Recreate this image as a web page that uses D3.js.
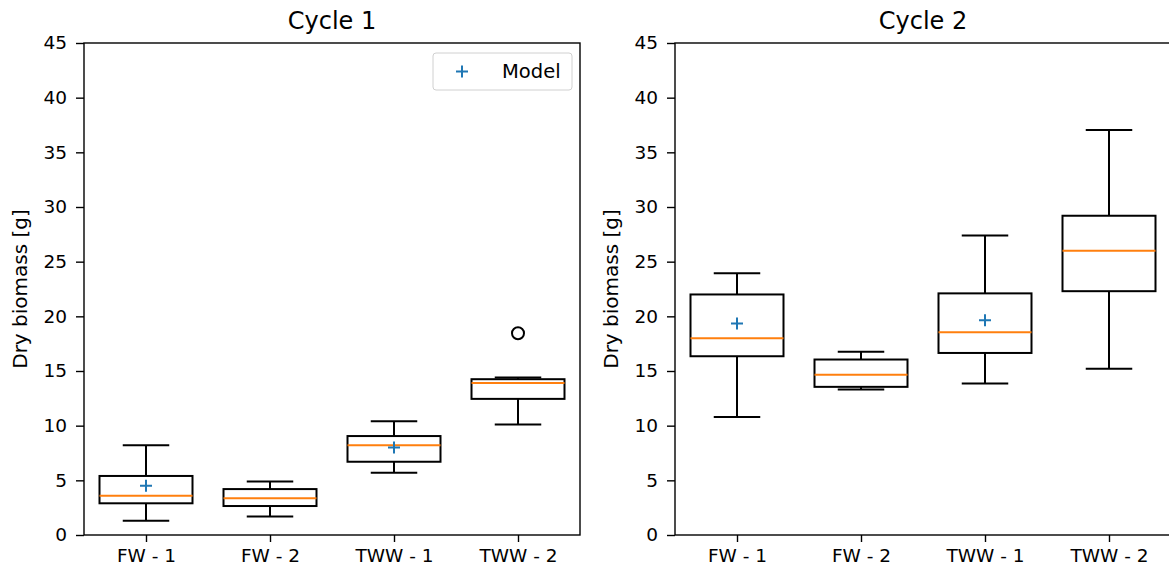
<!DOCTYPE html>
<html>
<head>
<meta charset="utf-8">
<script src="https://cdn.jsdelivr.net/npm/d3@7"></script>
<style>
  body { margin: 0; background: #fff; }
  text { font-family: "DejaVu Sans", sans-serif; fill: #000; }
</style>
</head>
<body>
<script>
const WIDTH = 1169
const HEIGHT = 570

const CATEGORIES = ['FW - 1', 'FW - 2', 'TWW - 1', 'TWW - 2']
const Y_TICKS = [0, 5, 10, 15, 20, 25, 30, 35, 40, 45]

// cycle 1 : whisker low, q1, median, q3, whisker high
const C1_LOW = [1.3, 1.7, 5.7, 10.1]
const C1_Q1 = [2.9, 2.65, 6.7, 12.45]
const C1_MED = [3.6, 3.35, 8.2, 13.9]
const C1_Q3 = [5.4, 4.2, 9.05, 14.25]
const C1_HIGH = [8.2, 4.9, 10.4, 14.4]
const C1_OUTLIERS = [[], [], [], [18.45]]
const C1_MODEL = [4.5, null, 8.0, null]

// cycle 2
const C2_LOW = [10.8, 13.3, 13.85, 15.2]
const C2_Q1 = [16.35, 13.55, 16.65, 22.3]
const C2_MED = [18.0, 14.65, 18.55, 26.0]
const C2_Q3 = [22.0, 16.05, 22.1, 29.2]
const C2_HIGH = [23.95, 16.75, 27.4, 37.05]
const C2_OUTLIERS = [[], [], [], []]
const C2_MODEL = [19.35, null, 19.65, null]

const svg = d3.select('body')
  .append('svg')
  .attr('width', WIDTH)
  .attr('height', HEIGHT)

const TOP = 43
const BOTTOM = 535
const PANEL_W = 496
const LW = 2

const panels = [
  { title: 'Cycle 1', left: 84, low: C1_LOW, q1: C1_Q1, med: C1_MED, q3: C1_Q3, high: C1_HIGH, out: C1_OUTLIERS, model: C1_MODEL, legend: true },
  { title: 'Cycle 2', left: 675, low: C2_LOW, q1: C2_Q1, med: C2_MED, q3: C2_Q3, high: C2_HIGH, out: C2_OUTLIERS, model: C2_MODEL, legend: false }
]

const y = d3.scaleLinear().domain([0, 45]).range([BOTTOM, TOP])

panels.forEach(p => {
  const x = d3.scaleLinear().domain([0.5, 4.5]).range([p.left, p.left + PANEL_W])
  const boxW = x(1.375) - x(1)  // demi-largeur de la boite
  const capW = boxW / 2

  const g = svg.append('g')

  // axes
  const xAxis = d3.axisBottom(x)
    .tickValues([1, 2, 3, 4])
    .tickFormat((d, i) => CATEGORIES[i])
    .tickSize(7).tickPadding(7)
  const gx = g.append('g').attr('transform', `translate(0,${BOTTOM})`).call(xAxis)

  const yAxis = d3.axisLeft(y).tickValues(Y_TICKS).tickSize(8).tickPadding(9)
  const gy = g.append('g').attr('transform', `translate(${p.left},0)`).call(yAxis)

  ;[gx, gy].forEach(a => {
    a.select('.domain').remove()
    a.selectAll('line').attr('stroke', '#000').attr('stroke-width', 1.4)
    a.selectAll('text').attr('font-size', 18.5).attr('font-family', '"DejaVu Sans", sans-serif')
  })

  // cadre
  g.append('rect')
    .attr('x', p.left).attr('y', TOP)
    .attr('width', PANEL_W).attr('height', BOTTOM - TOP)
    .attr('fill', 'none').attr('stroke', '#000').attr('stroke-width', 1.4)

  // titre
  g.append('text')
    .attr('x', x(2.5)).attr('y', 29)
    .attr('text-anchor', 'middle')
    .attr('font-size', 24)
    .text(p.title)

  // label y
  g.append('text')
    .attr('transform', `translate(${p.left - 57},${(TOP + BOTTOM) / 2}) rotate(-90)`)
    .attr('text-anchor', 'middle')
    .attr('font-size', 20)
    .text('Dry biomass [g]')

  const idx = d3.range(CATEGORIES.length)

  // moustaches
  g.selectAll('.wl').data(idx).enter().append('line')
    .attr('x1', i => x(i + 1)).attr('x2', i => x(i + 1))
    .attr('y1', i => y(p.low[i])).attr('y2', i => y(p.q1[i]))
    .attr('stroke', '#000').attr('stroke-width', LW)
  g.selectAll('.wh').data(idx).enter().append('line')
    .attr('x1', i => x(i + 1)).attr('x2', i => x(i + 1))
    .attr('y1', i => y(p.q3[i])).attr('y2', i => y(p.high[i]))
    .attr('stroke', '#000').attr('stroke-width', LW)

  ;['low', 'high'].forEach(k => {
    g.selectAll('.cap-' + k).data(idx).enter().append('line')
      .attr('x1', i => x(i + 1) - capW).attr('x2', i => x(i + 1) + capW)
      .attr('y1', i => y(p[k][i])).attr('y2', i => y(p[k][i]))
      .attr('stroke', '#000').attr('stroke-width', LW)
  })

  // boites
  g.selectAll('.box').data(idx).enter().append('rect')
    .attr('x', i => x(i + 1) - boxW)
    .attr('width', boxW * 2)
    .attr('y', i => y(p.q3[i]))
    .attr('height', i => y(p.q1[i]) - y(p.q3[i]))
    .attr('fill', 'none').attr('stroke', '#000').attr('stroke-width', LW)

  // medianes
  g.selectAll('.med').data(idx).enter().append('line')
    .attr('x1', i => x(i + 1) - boxW).attr('x2', i => x(i + 1) + boxW)
    .attr('y1', i => y(p.med[i])).attr('y2', i => y(p.med[i]))
    .attr('stroke', '#ff7f0e').attr('stroke-width', LW)

  // points aberrants
  const outs = idx.flatMap(i => p.out[i].map(v => ({ i, v })))
  g.selectAll('.out').data(outs).enter().append('circle')
    .attr('cx', d => x(d.i + 1)).attr('cy', d => y(d.v))
    .attr('r', 6).attr('fill', 'none').attr('stroke', '#000').attr('stroke-width', LW)

  // modele
  const models = idx.filter(i => p.model[i] !== null)
  g.selectAll('.model').data(models).enter().append('path')
    .attr('transform', i => `translate(${x(i + 1)},${y(p.model[i])})`)
    .attr('d', 'M-6,0H6M0,-6V6')
    .attr('stroke', '#1f77b4').attr('stroke-width', 2).attr('fill', 'none')

  if (p.legend) {
    const lg = g.append('g').attr('transform', `translate(${p.left + PANEL_W - 147},${TOP + 10})`)
    lg.append('rect')
      .attr('width', 139).attr('height', 37).attr('rx', 3)
      .attr('fill', '#fff').attr('stroke', '#d0d0d0')
    lg.append('path')
      .attr('transform', 'translate(29,18.5)')
      .attr('d', 'M-6,0H6M0,-6V6')
      .attr('stroke', '#1f77b4').attr('stroke-width', 2)
    lg.append('text')
      .attr('x', 69).attr('y', 25)
      .attr('font-size', 19.5)
      .text('Model')
  }
})
</script>
</body>
</html>
